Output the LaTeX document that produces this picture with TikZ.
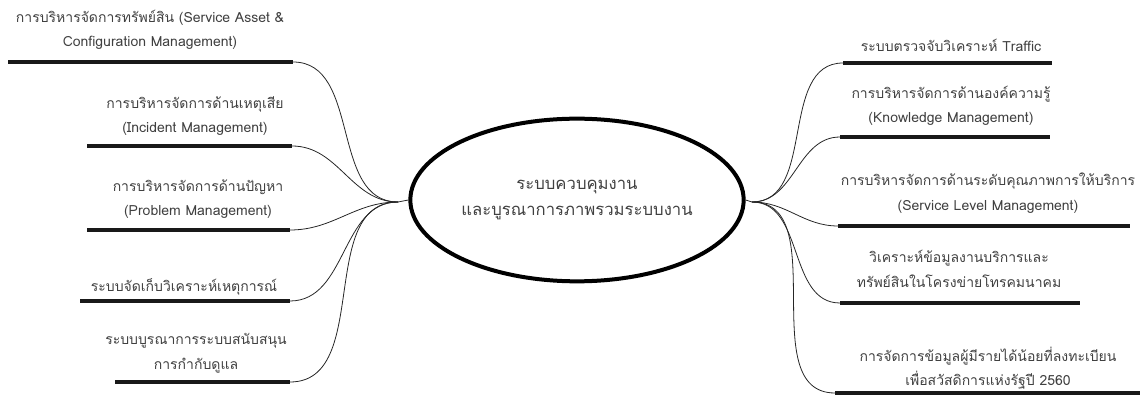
\documentclass[tikz,border=0pt]{standalone}
\usepackage{fontspec}
\newfontfamily\thaifont[Script=Thai]{Loma}
\usetikzlibrary{shapes.geometric}

\begin{document}
\begin{tikzpicture}
  [x=0.75pt, y=-0.75pt,
   topic/.style={font=\thaifont\fontsize{10.5}{18.5}\selectfont, text=black!75, align=center, inner sep=0pt},
   hub/.style={ellipse, draw=black, line width=3pt, minimum width=250pt, minimum height=122pt,
                font=\thaifont\fontsize{12.5}{20}\selectfont},
   bar/.style={line width=2.4pt, draw=black!90},
   link/.style={draw=black!85, line width=0.6pt}]

  \useasboundingbox (0,0) rectangle (1142,402);

  % Centro
  \node[topic, hub] (c) at (577,200) {ระบบควบคุมงาน\\และบูรณาการภาพรวมระบบงาน};
  \coordinate (hl) at (398,202);
  \coordinate (hr) at (752,202);
  \draw[link] (hl) -- (c.west);
  \draw[link] (hr) -- (c.east);

  % Temas izquierda
  \node[topic] (l1) at (150,30) {การบริหารจัดการทรัพย์สิน (Service Asset \&\\Configuration Management)};
  \node[topic] (l2) at (195,116) {การบริหารจัดการด้านเหตุเสีย\\(Incident Management)};
  \node[topic] (l3) at (198,199) {การบริหารจัดการด้านปัญหา\\(Problem Management)};
  \node[topic] (l4) at (184,287) {ระบบจัดเก็บวิเคราะห์เหตุการณ์};
  \node[topic] (l5) at (196,353) {ระบบบูรณาการระบบสนับสนุน\\การกำกับดูแล};

  % Temas derecha
  \node[topic] (r1) at (951,45) {ระบบตรวจจับวิเคราะห์ Traffic};
  \node[topic] (r2) at (951,106) {การบริหารจัดการด้านองค์ความรู้\\(Knowledge Management)};
  \node[topic] (r3) at (988,193) {การบริหารจัดการด้านระดับคุณภาพการให้บริการ\\(Service Level Management)};
  \node[topic] (r4) at (959,269) {วิเคราะห์ข้อมูลงานบริการและ\\ทรัพย์สินในโครงข่ายโทรคมนาคม};
  \node[topic] (r5) at (988,368) {การจัดการข้อมูลผู้มีรายได้น้อยที่ลงทะเบียน\\เพื่อสวัสดิการแห่งรัฐปี 2560};

  % Subrayados
  \coordinate (l1a) at (8,62);    \coordinate (l1b) at (293,62);
  \coordinate (l2a) at (87,146);  \coordinate (l2b) at (292,146);
  \coordinate (l3a) at (87,230);  \coordinate (l3b) at (290,230);
  \coordinate (l4a) at (80,301);  \coordinate (l4b) at (290,301);
  \coordinate (l5a) at (115,382); \coordinate (l5b) at (290,382);
  \coordinate (r1a) at (843,63);  \coordinate (r1b) at (1052,63);
  \coordinate (r2a) at (840,137); \coordinate (r2b) at (1050,137);
  \coordinate (r3a) at (838,226); \coordinate (r3b) at (1130,226);
  \coordinate (r4a) at (840,303); \coordinate (r4b) at (1080,303);
  \coordinate (r5a) at (835,393); \coordinate (r5b) at (1140,393);

  \foreach \from/\to in {l1a/l1b, l2a/l2b, l3a/l3b, l4a/l4b, l5a/l5b,
                         r1a/r1b, r2a/r2b, r3a/r3b, r4a/r4b, r5a/r5b}
    \draw[bar] (\from) -- (\to);

  % Ramas
  \foreach \to in {l1b, l2b, l3b, l4b, l5b}
    \draw[link] (hl) to[out=180, in=0] (\to);
  \foreach \to in {r1a, r2a, r3a, r4a, r5a}
    \draw[link] (hr) to[out=0, in=180] (\to);
\end{tikzpicture}
\end{document}
